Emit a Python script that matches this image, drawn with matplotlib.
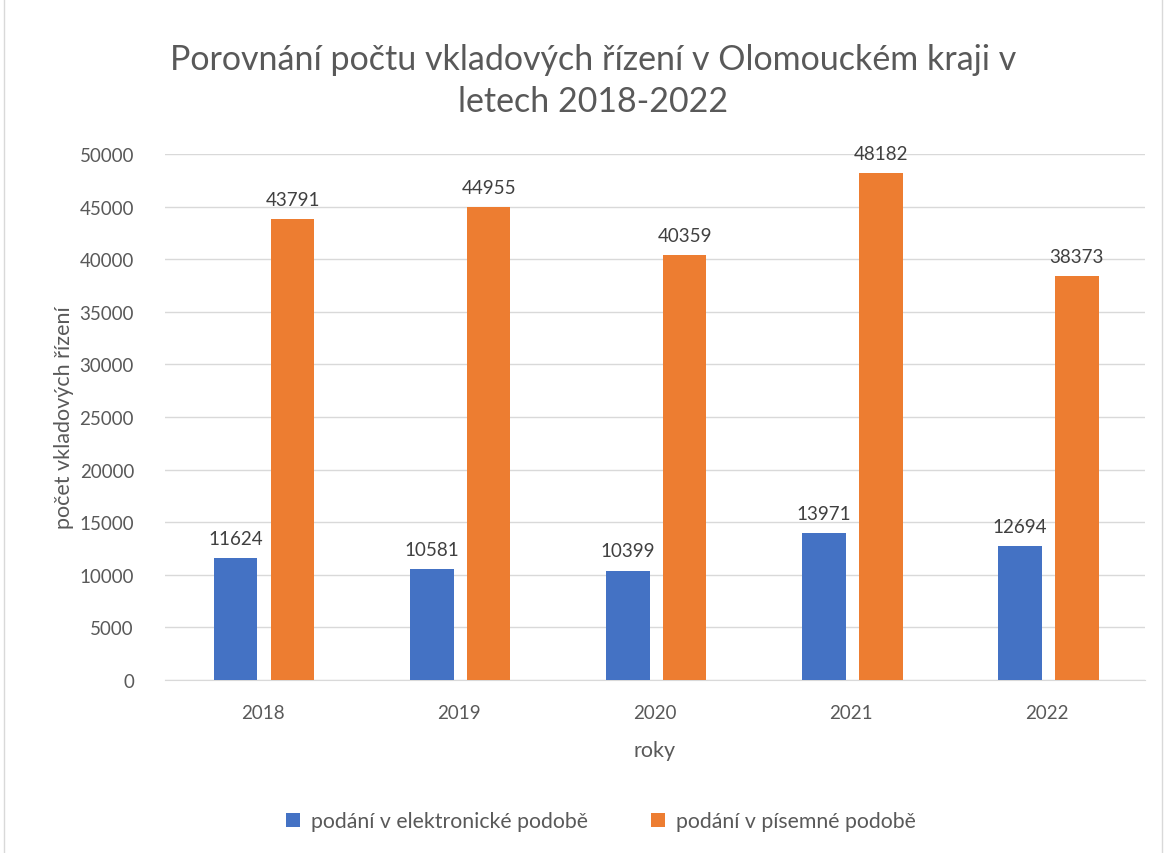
import matplotlib
matplotlib.use("Agg")
import matplotlib.pyplot as plt
import numpy as np
from matplotlib.patches import Rectangle

plt.rcParams['font.family'] = ['Lato', 'DejaVu Sans']

years = ["2018", "2019", "2020", "2021", "2022"]
elektronicke = [11624, 10581, 10399, 13971, 12694]
pisemne = [43791, 44955, 40359, 48182, 38373]
series_names = ["podání v elektronické podobě", "podání v písemné podobě"]
colors = ["#4472C4", "#ED7D31"]

fig = plt.figure(figsize=(11.67, 8.54), dpi=100)
ax = fig.add_axes([0.141, 0.2026, 0.840, 0.6159])

x = np.arange(len(years))
w = 0.222
off = 0.145
b1 = ax.bar(x - off + 0.008, elektronicke, w, color=colors[0], label=series_names[0], zorder=3)
b2 = ax.bar(x + off + 0.008, pisemne, w, color=colors[1], label=series_names[1], zorder=3)

for bars, vals in ((b1, elektronicke), (b2, pisemne)):
    for r, v in zip(bars, vals):
        ax.annotate(str(v), (r.get_x() + r.get_width() / 2, v), xytext=(0, 8),
                    textcoords="offset points", ha="center", va="bottom",
                    fontsize=13.5, color="#404040")

ax.set_xlim(-0.5, len(years) - 0.5)
ax.set_ylim(0, 50000)
ax.set_yticks(np.arange(0, 50001, 5000))
ax.set_xticks(x)
ax.set_xticklabels(years)
ax.tick_params(axis="both", length=0, labelsize=13.5, labelcolor="#595959")
ax.tick_params(axis="y", pad=22)
ax.tick_params(axis="x", pad=17)
ax.grid(axis="y", color="#D9D9D9", linewidth=1, zorder=0)
for s in ("top", "right", "left"):
    ax.spines[s].set_visible(False)
ax.spines["bottom"].set_color("#D9D9D9")

ax.set_xlabel("roky", fontsize=15.5, color="#595959", labelpad=14)
ax.set_ylabel("počet vkladových řízení", fontsize=15.5, color="#595959")
ax.yaxis.label.set_va("center")
ax.yaxis.set_label_coords(0.055, 0.5105, transform=fig.transFigure)

fig.text(0.508, 0.905, "Porovnání počtu vkladových řízení v Olomouckém kraji v\nletech 2018-2022",
         ha="center", va="center", fontsize=24.5, color="#595959", linespacing=1.4)

fig.legend(handles=[b1, b2], loc="center", bbox_to_anchor=(0.515, 0.037), ncol=2,
           frameon=False, fontsize=15.3, handlelength=0.65, handleheight=0.65,
           columnspacing=3, handletextpad=0.5, labelcolor="#595959")

fig.add_artist(Rectangle((0.003, -0.01), 0.993, 1.02, transform=fig.transFigure,
                         fill=False, edgecolor="#D9D9D9", linewidth=1))

fig.savefig("out.png", dpi=100)
